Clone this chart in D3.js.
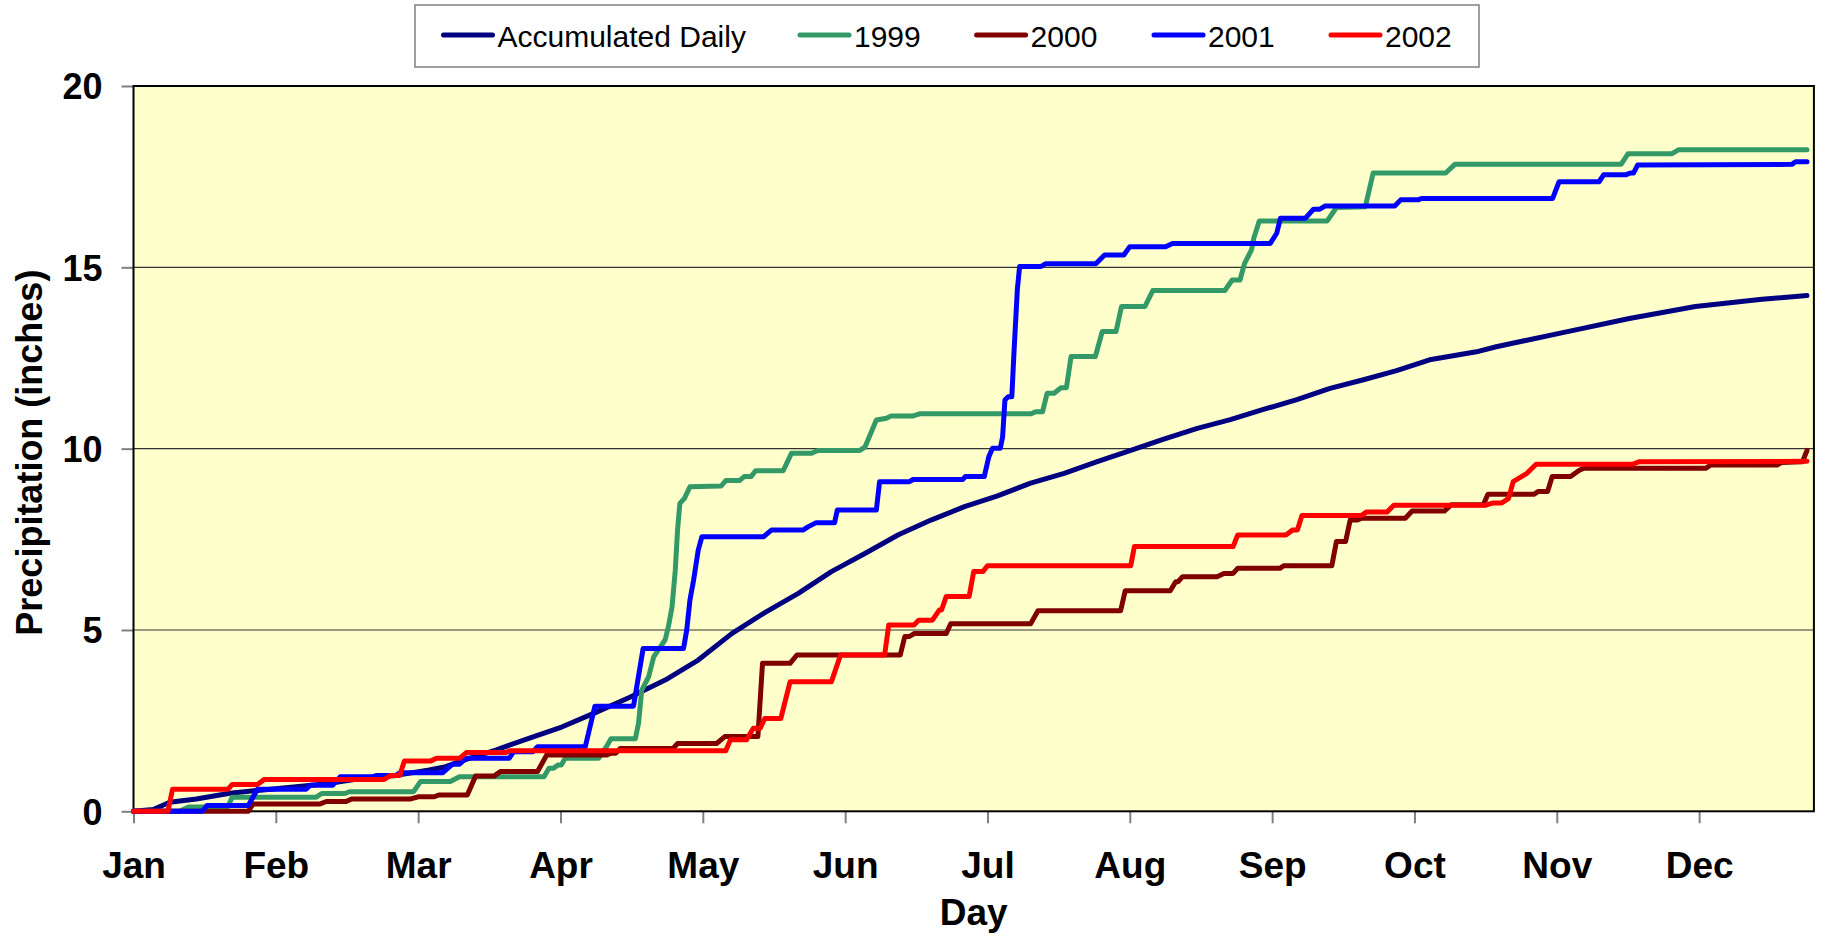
<!DOCTYPE html>
<html>
<head>
<meta charset="utf-8">
<script src="https://cdn.jsdelivr.net/npm/d3@7"></script>
<style>
  body { margin: 0; background: #fff; }
  svg { display: block; font-family: "Liberation Sans", Arial, sans-serif; }
</style>
</head>
<body>
<svg width="1825" height="936"></svg>
<script>
// month labels sit every 31 days on the category axis
var months = ["Jan", "Feb", "Mar", "Apr", "May", "Jun", "Jul", "Aug", "Sep", "Oct", "Nov", "Dec"];
var yTicks = [0, 5, 10, 15, 20];

// [day, inches]
var accumulated = [[0,0],[4.3,0.05],[7.9,0.25],[13.7,0.34],[21,0.5],[28.2,0.59],[35.4,0.68],[42.7,0.77],[49.9,0.91],
  [57.2,0.99],[64.4,1.14],[68,1.23],[71.6,1.4],[78.9,1.69],[86.1,2.01],[93.4,2.33],[100.6,2.72],[108,3.14],[115.8,3.62],
  [123,4.17],[130.3,4.9],[137.5,5.48],[144.8,6.01],[152,6.61],[159.3,7.11],[166.5,7.62],[173.7,8.03],[181,8.4],[188.2,8.7],
  [195.4,9.05],[202.7,9.32],[209.9,9.64],[217.2,9.95],[224.4,10.26],[231.7,10.56],[238.9,10.8],[246.1,11.08],[253.4,11.35],
  [260.6,11.66],[267.9,11.9],[275.1,12.15],[282.3,12.45],[292.5,12.67],[296.8,12.81],[311.3,13.2],[325.8,13.59],
  [340.2,13.92],[354.7,14.12],[364.5,14.22]];

var y1999 = [[0,0],[10,0],[12,0.12],[20.5,0.12],[21.5,0.39],[39.8,0.39],[41,0.49],[46,0.49],[47,0.54],[61,0.54],[62.5,0.82],
  [69,0.82],[71,0.95],[89.4,0.95],[90.5,1.19],[91.5,1.19],[92.5,1.28],[93.2,1.28],[94,1.46],[101.3,1.46],[103,1.78],[104,2.0],
  [109.3,2.0],[110,2.43],[110.7,3.34],[112.2,3.71],[113.3,4.26],[115.8,4.73],[116.5,5.09],[117.3,5.64],[118,6.65],[118.5,7.76],
  [119,8.49],[120,8.63],[121.2,8.95],[128,8.97],[129,9.12],[132,9.12],[133,9.23],[134.5,9.23],[135.5,9.39],[141.5,9.39],
  [143.3,9.87],[147.7,9.87],[149,9.95],[158.2,9.95],[159.3,10.04],[161.8,10.79],[164,10.84],[165,10.9],[169.7,10.9],
  [171.2,10.96],[195.5,10.96],[196.5,11.02],[198,11.02],[199,11.53],[200.5,11.53],[202,11.68],[203.2,11.68],[204.2,12.54],
  [209.5,12.54],[211,13.23],[214,13.23],[215.2,13.92],[220.3,13.92],[222,14.36],[237.7,14.36],[239.3,14.65],[241,14.65],
  [242,15.11],[243.5,15.48],[244,15.8],[245.2,16.28],[260,16.28],[262,16.65],[268.3,16.67],[270,17.6],[285.8,17.6],
  [287.8,17.84],[324,17.84],[325.5,18.13],[335,18.13],[336.5,18.24],[364.5,18.24]];

var y2000 = [[0,0],[25,0],[26,0.2],[40.5,0.2],[42,0.27],[46.3,0.27],[47.5,0.34],[60.4,0.34],[62,0.4],[65.5,0.4],[66.5,0.45],
  [72.7,0.45],[74.5,0.97],[78.5,0.97],[80,1.1],[88,1.1],[90,1.55],[103,1.55],[104,1.6],[105,1.6],[106,1.73],[117.5,1.73],
  [118.5,1.87],[127,1.87],[128.8,2.06],[136,2.06],[137,4.08],[143,4.08],[144.5,4.31],[167,4.31],[168,4.82],[169,4.82],
  [170,4.9],[177,4.9],[178,5.17],[195.4,5.17],[197,5.53],[215,5.53],[216,6.08],[225.8,6.08],[227,6.33],[227.5,6.33],
  [228.5,6.47],[236,6.47],[237.5,6.56],[239.5,6.56],[240.5,6.7],[249.7,6.7],[250.5,6.77],[261,6.77],[262,7.44],[264,7.44],
  [265,8.03],[266.5,8.03],[267.5,8.08],[277,8.08],[278.5,8.28],[285.5,8.28],[287,8.45],[294,8.45],[295,8.74],[305,8.74],
  [306,8.82],[308,8.82],[309,9.23],[313,9.23],[315,9.41],[316,9.46],[342.5,9.46],[343.5,9.55],[358,9.55],[359,9.62],
  [363.5,9.64],[364.5,9.95]];

var y2001 = [[0,0],[15,0],[16,0.16],[25,0.16],[27,0.61],[37.6,0.61],[38.5,0.72],[43.4,0.72],[45,0.95],[52,0.95],[53,0.99],
  [57.2,0.99],[58,1.06],[67.3,1.06],[69.5,1.3],[71,1.3],[72.4,1.46],[81.8,1.46],[82.8,1.64],[87,1.64],[88,1.78],[98.4,1.78],
  [100.5,2.9],[108.9,2.9],[111,4.49],[119.8,4.49],[120.5,5.0],[121.2,5.83],[122,6.38],[123,7.2],[123.8,7.57],[137.2,7.57],
  [139,7.76],[145.9,7.76],[147,7.85],[148.7,7.96],[152.7,7.96],[153.3,8.31],[161.8,8.31],[162.5,9.09],[169,9.09],
  [169.8,9.15],[180.6,9.15],[181.2,9.23],[185.3,9.23],[186.3,9.78],[187.1,10.01],[188.8,10.01],[189.3,10.33],[189.8,11.34],
  [190.5,11.43],[191.3,11.43],[191.8,12.72],[192.5,14.38],[193,15.02],[197.6,15.02],[198.7,15.1],[209.6,15.1],[211.5,15.34],
  [215.7,15.34],[217,15.57],[224.8,15.57],[226.3,15.66],[247.6,15.66],[249,15.94],[249.8,16.35],[255.2,16.35],[257,16.6],
  [258.3,16.6],[259.5,16.69],[274.7,16.69],[276,16.86],[279.8,16.86],[280.5,16.9],[309.1,16.9],[310.5,17.36],[319.2,17.36],
  [320.2,17.55],[325,17.55],[326,17.6],[326.7,17.6],[327.6,17.82],[361.2,17.84],[362,17.91],[364.5,17.91]];

var y2002 = [[0,0],[7.5,0],[8.5,0.61],[20.6,0.61],[21.5,0.74],[27,0.74],[28.5,0.88],[54.6,0.88],[56,0.99],[58,0.99],[59,1.39],
  [64.8,1.39],[66,1.46],[71,1.46],[72.5,1.62],[81,1.62],[82,1.67],[129,1.67],[130,1.97],[133.5,1.97],[135,2.29],[136.5,2.29],
  [137.5,2.56],[141,2.56],[143,3.57],[152,3.57],[154,4.31],[163.6,4.31],[164.5,5.14],[170,5.14],[171,5.27],[174,5.27],
  [175.5,5.55],[176,5.55],[177,5.92],[182,5.92],[183,6.61],[185,6.61],[186,6.77],[217.2,6.77],[218,7.3],[239.5,7.3],
  [240.5,7.62],[251,7.62],[252.5,7.76],[253.5,7.76],[254.5,8.16],[267.5,8.16],[268.5,8.25],[273,8.25],[274.5,8.44],
  [294.5,8.44],[296,8.5],[298,8.5],[299.5,8.63],[300.5,9.09],[303.5,9.32],[305.5,9.57],[326.5,9.57],[328,9.64],[364.5,9.65]];

var seriesNames = ["Accumulated Daily", "1999", "2000", "2001", "2002"];
var seriesColors = ["#000080", "#339966", "#800000", "#0000ff", "#ff0000"];
var series = [accumulated, y1999, y2000, y2001, y2002];

var svg = d3.select("svg"),
    margin = {top: 86, left: 133.5},
    width = 1680.4,
    height = 725.3,
    g = svg.append("g").attr("transform", "translate(" + margin.left + "," + margin.top + ")");

var x = d3.scaleLinear().domain([0, 366]).range([0, width]),
    y = d3.scaleLinear().domain([0, 20]).range([height, 0]);

g.append("rect")
    .attr("width", width)
    .attr("height", height)
    .attr("fill", "#ffffcc");

// gridlines
g.selectAll(".grid")
    .data([5, 10, 15])
  .enter().append("line")
    .attr("x1", 0).attr("x2", width)
    .attr("y1", function(d) { return y(d); })
    .attr("y2", function(d) { return y(d); })
    .style("stroke", "#333")
    .style("stroke-width", 1.2);

var xAxis = g.append("g")
    .attr("transform", "translate(0," + height + ")")
    .call(d3.axisBottom(x)
      .tickValues(d3.range(0, 366, 31))
      .tickFormat(function(d, i) { return months[i]; })
      .tickSize(12)
      .tickPadding(0));
xAxis.select(".domain").remove();
xAxis.selectAll(".tick line").style("stroke", "#808080").style("stroke-width", 2);
xAxis.selectAll(".tick text")
    .attr("y", 67)
    .attr("dy", 0)
    .style("font-size", "37px")
    .style("font-weight", "bold")
    .style("fill", "#000");

var yAxis = g.append("g")
    .call(d3.axisLeft(y)
      .tickValues(yTicks)
      .tickSize(12)
      .tickPadding(0));
yAxis.select(".domain").remove();
yAxis.selectAll(".tick line").style("stroke", "#808080").style("stroke-width", 2);
yAxis.selectAll(".tick text")
    .attr("x", -31)
    .attr("dy", "0.36em")
    .style("font-size", "36px")
    .style("font-weight", "bold")
    .style("fill", "#000");

// plot frame
g.append("rect")
    .attr("width", width)
    .attr("height", height)
    .attr("fill", "none")
    .style("stroke", "#000")
    .style("stroke-width", 2);

var line = d3.line()
    .x(function(d) { return x(d[0]); })
    .y(function(d) { return y(d[1]); });

g.selectAll(".series")
    .data(series)
  .enter().append("path")
    .attr("class", "series")
    .attr("d", line)
    .attr("fill", "none")
    .style("stroke", function(d, i) { return seriesColors[i]; })
    .style("stroke-width", 5)
    .style("stroke-linejoin", "round")
    .style("stroke-linecap", "round");

// axis titles
svg.append("text")
    .attr("transform", "translate(42," + (margin.top + height / 2 + 4) + ") rotate(-90)")
    .attr("text-anchor", "middle")
    .style("font-size", "36px")
    .style("font-weight", "bold")
    .text("Precipitation (inches)");

svg.append("text")
    .attr("x", margin.left + width / 2)
    .attr("y", 925)
    .attr("text-anchor", "middle")
    .style("font-size", "37px")
    .style("font-weight", "bold")
    .text("Day");

// legend
var legendX = [443.5, 800, 976.6, 1154, 1331];
var legend = svg.append("g");
legend.append("rect")
    .attr("x", 415).attr("y", 5)
    .attr("width", 1064).attr("height", 62)
    .attr("fill", "#fff")
    .style("stroke", "#808080")
    .style("stroke-width", 1.5);

var item = legend.selectAll(".item")
    .data(seriesNames)
  .enter().append("g")
    .attr("transform", function(d, i) { return "translate(" + legendX[i] + ",35)"; });

item.append("line")
    .attr("x1", 0).attr("x2", 49)
    .style("stroke", function(d, i) { return seriesColors[i]; })
    .style("stroke-width", 5)
    .style("stroke-linecap", "round");

item.append("text")
    .attr("x", 54)
    .attr("y", 11.5)
    .style("font-size", "30px")
    .style("transform-box", "fill-box")
    .text(function(d) { return d; });
</script>
</body>
</html>
